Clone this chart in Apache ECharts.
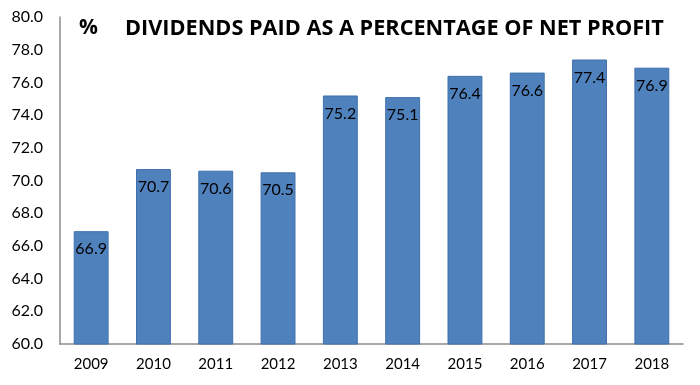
<!DOCTYPE html>
<html><head><meta charset="utf-8">
<script src="https://cdn.jsdelivr.net/npm/echarts@6/dist/echarts.min.js"></script>
<style>html,body{margin:0;padding:0;background:#fff}#c{width:700px;height:385px}</style>
</head><body><div id="c"></div>
<script>
const categories = ['2009','2010','2011','2012','2013','2014','2015','2016','2017','2018'];
const values = [66.9, 70.7, 70.6, 70.5, 75.2, 75.1, 76.4, 76.6, 77.4, 76.9];
const yTicks = [60, 62, 64, 66, 68, 70, 72, 74, 76, 78, 80];
const titleUnit = '%';
const titleText = 'DIVIDENDS PAID AS A PERCENTAGE OF NET PROFIT';

const chart = echarts.init(document.getElementById('c'));
const F = 'Lato, "Open Sans", sans-serif';
const TF = '"Open Sans", Lato, sans-serif';
chart.setOption({
  animation: false,
  backgroundColor: '#fff',
  title: [
    {text: titleUnit, left: 79, top: 18, padding: 0, textStyle: {fontFamily: TF, fontSize: 21, fontWeight: 'bold', color: '#000'}},
    {text: titleText, left: 125, top: 18, padding: 0, textStyle: {fontFamily: TF, fontSize: 21.7, fontWeight: 'bold', color: '#000'}}
  ],
  grid: {left: 60, right: 17, top: 17, bottom: 41},
  xAxis: {
    type: 'category', data: categories,
    axisLine: {lineStyle: {color: '#8c8c8c', width: 1.5}},
    axisTick: {show: false},
    axisLabel: {fontFamily: F, fontSize: 15, color: '#000', margin: 13}
  },
  yAxis: {
    type: 'value', min: yTicks[0], max: yTicks[yTicks.length-1], interval: 2,
    axisLine: {show: true, lineStyle: {color: '#8c8c8c', width: 1.5}},
    axisTick: {show: false},
    splitLine: {show: false},
    axisLabel: {fontFamily: F, fontSize: 16, color: '#000', margin: 17, formatter: v => v.toFixed(1)}
  },
  series: [{
    type: 'bar', data: values, barWidth: '56%',
    itemStyle: {color: '#4F81BD', borderColor: '#3F70AD', borderWidth: 1},
    label: {show: true, position: 'insideTop', distance: 10, fontFamily: F, fontSize: 16, color: '#000', formatter: p => p.value.toFixed(1)}
  }]
});
</script></body></html>
